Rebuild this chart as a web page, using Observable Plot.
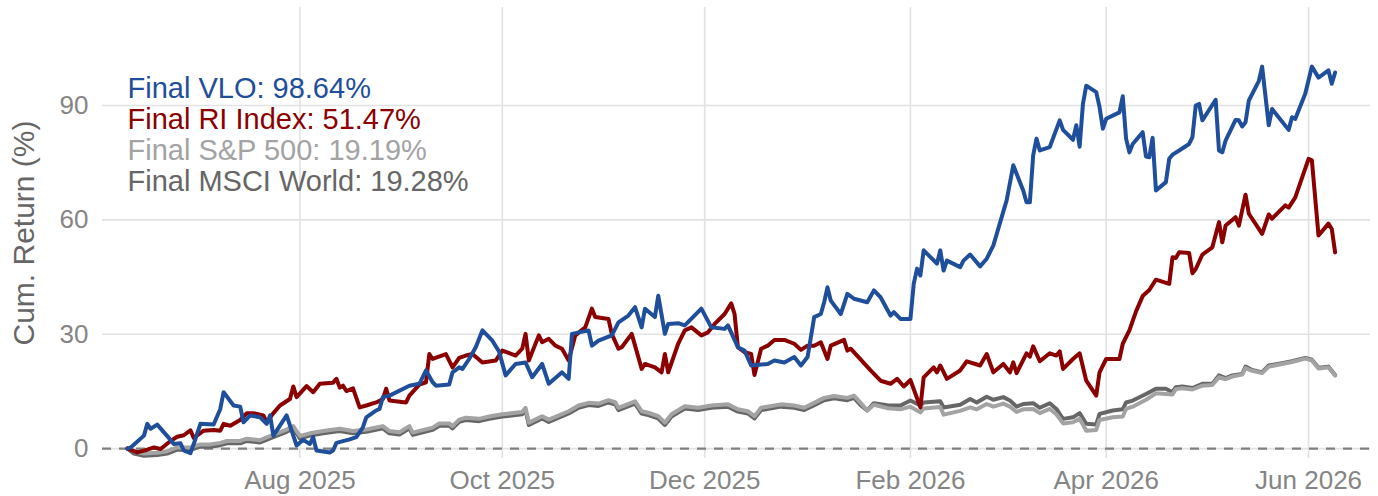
<!DOCTYPE html>
<html><head><meta charset="utf-8">
<script src="https://cdn.jsdelivr.net/npm/d3@7"></script>
<script src="https://cdn.jsdelivr.net/npm/@observablehq/plot@0.6"></script>
<style>html,body{margin:0;padding:0;background:#fff;}</style>
</head><body><div id="chart"></div>
<script>
// ---- data (day offsets from start date, cumulative return in %) ----
const startDate = "2025-06-10";

const vloDays = [0,1,5,6,7,9,13,14,16,17,19,20,22,26,28,29,32,34,35,37,40,42,43,44,48,51,53,55,56,57,61,62,63,67,69,71,72,75,76,77,79,85,88,90,92,93,97,98,100,101,103,105,107,110,112,114,117,120,122,125,127,131,133,134,139,140,142,146,148,151,153,155,156,159,160,162,163,166,168,173,176,180,181,184,186,188,193,195,198,201,203,205,207,209,210,211,212,215,217,219,223,225,227,230,231,233,236,237,238,239,240,244,245,246,247,251,252,254,257,259,261,265,267,270,271,272,273,274,275,278,281,282,285,286,287,288,289,292,293,294,295,299,300,301,302,303,306,307,308,309,310,313,314,315,317,320,321,322,323,324,328,329,330,331,334,335,336,337,338,341,342,344,345,350,351,352,355,357,359,362,363,364];
const vloValues = [0,0.3,3.4,6.5,5.2,6.3,2.3,1.2,1.4,-0.5,-1.2,1.2,6.5,6.3,10.4,14.8,11.3,11.0,6.9,8.7,8.2,6.5,8.7,3.4,8.7,0.8,2.3,1.2,3.0,-0.5,-1.0,-0.5,1.5,2.4,3.0,5.6,8.2,10.0,10.4,13.5,13.9,16.5,17.0,20.5,17.4,16.5,16.8,20.0,21.3,20.9,23.5,26.6,31.0,28.3,25.5,19.2,22.2,22.6,18.7,22.2,17.0,20.0,18.3,30.1,31.0,27.0,28.3,29.7,33.1,34.9,37.1,31.8,36.7,34.5,40.1,30.1,32.7,32.9,32.3,36.7,31.8,31.4,32.3,26.6,25.7,21.8,22.2,23.1,22.6,24.0,21.8,24.0,34.5,35.3,38.4,42.3,38.8,35.3,40.6,39.3,38.4,41.5,39.7,34.9,35.8,34.0,34.0,43.2,47.2,45.4,52.0,48.5,52.0,46.7,49.3,47.6,49.3,50.9,47.8,49.8,53.3,65.1,74.3,67.7,64.6,64.6,76.9,81.3,78.2,79.1,86.1,83.6,81.0,84.8,79.2,90.4,95.2,93.5,89.6,83.9,86.5,88.2,92.4,81.3,77.7,79.9,83.0,76.6,76.4,81.5,67.7,69.9,76.0,77.1,78.2,79.9,81.7,90.0,90.4,86.1,91.5,78.2,77.7,80.8,86.2,86.1,84.5,85.6,91.3,96.4,100.2,84.8,89.1,83.6,86.9,86.5,93.1,100.2,97.3,99.2,95.7,98.64];

const riDays = [0,3,6,8,10,13,15,17,19,20,23,26,28,29,31,34,36,38,41,42,44,46,49,50,51,54,56,58,62,63,64,65,66,68,70,72,75,77,78,79,84,85,88,90,91,92,96,98,100,102,104,107,111,113,117,119,120,121,124,125,127,129,131,133,135,138,140,141,145,146,148,149,152,155,156,159,161,162,163,166,168,170,173,175,177,180,182,183,184,186,188,189,191,193,195,198,201,203,205,207,209,211,212,216,217,218,224,227,230,232,234,236,239,240,243,244,245,247,251,253,257,259,261,264,266,267,268,271,272,273,275,278,280,281,282,285,287,289,292,293,295,299,300,302,304,306,308,310,314,315,316,317,320,321,322,324,327,329,330,331,334,335,337,338,342,344,345,349,350,352,356,357,359,362,363,364];
const riValues = [0,-1.0,-0.3,0.3,-0.1,2.0,3.1,3.5,4.8,2.8,4.7,4.9,4.7,6.5,6.0,7.5,9.3,9.3,8.7,6.9,9.3,11.3,13.0,16.3,13.5,16.4,14.8,17.0,17.3,18.3,16.0,16.5,15.1,15.8,10.8,11.3,12.1,13.0,15.7,12.6,12.1,13.9,16.8,17.4,24.8,23.5,24.8,21.3,23.8,24.4,24.8,22.6,23.1,25.7,24.4,26.2,30.1,23.1,29.7,27.9,28.8,27.0,26.2,23.1,29.7,31.8,36.7,34.5,34.0,30.1,26.2,26.6,30.1,20.9,22.2,21.3,20.0,24.8,20.0,27.5,31.0,31.8,29.7,30.5,32.7,35.3,38.1,35.3,26.6,25.3,24.8,19.3,26.2,27.0,28.5,28.5,27.5,25.9,27.0,27.0,27.9,23.5,27.0,28.5,25.7,26.2,20.5,17.8,17.0,18.3,16.3,18.0,10.8,18.7,21.3,20.0,21.8,18.3,20.5,22.9,21.8,24.8,20.0,22.2,20.0,22.6,19.8,25.0,24.1,26.8,22.9,25.0,24.4,25.5,20.9,23.5,25.0,17.8,13.9,20.0,23.5,23.5,27.5,31.0,36.0,40.0,41.6,44.3,43.2,50.2,50.0,51.5,51.3,46.0,47.1,50.9,52.8,59.4,54.1,58.5,60.7,58.5,66.6,61.6,56.3,61.4,60.3,63.8,63.2,65.9,76.0,75.6,55.9,59.0,57.6,51.47];

const indexDays = [0,2,5,9,12,15,19,22,25,28,30,34,36,40,43,48,50,52,55,59,64,68,72,77,79,82,85,86,92,94,97,98,100,102,106,109,113,117,119,120,121,125,127,133,136,139,142,145,147,148,153,155,157,160,162,164,168,172,176,181,184,187,189,191,197,201,204,207,210,213,217,219,221,223,225,229,233,236,239,240,245,246,251,254,256,259,261,264,266,268,270,273,275,278,280,282,285,287,289,292,293,297,300,301,303,307,310,313,315,316,318,321,324,327,329,331,333,336,337,339,342,344,348,351,355,357,359,362,364];
const msciValues = [0,-1.3,-1.9,-1.7,-1.3,-0.3,-0.3,0.5,0.5,0.9,1.4,1.4,2.0,1.6,2.7,4.4,5.3,2.7,3.4,4.0,4.6,4.0,4.4,5.3,4.0,3.7,5.3,3.6,4.9,6.0,6.0,5.3,7.0,7.5,7.2,7.8,8.4,8.8,9.0,10.1,6.2,7.9,7.0,9.2,10.7,11.4,11.2,12.1,11.6,10.1,11.8,9.2,8.8,7.9,6.2,8.4,10.5,10.1,10.7,11.0,9.7,9.2,7.9,10.1,11.0,10.7,10.1,11.4,12.7,13.2,12.7,13.3,11.4,10.0,11.9,11.4,11.3,12.6,11.3,12.1,12.4,10.8,11.5,13.0,12.1,13.6,12.8,13.5,12.6,11.0,11.7,11.9,10.7,11.9,10.4,7.8,8.2,9.3,6.5,6.3,9.1,10.0,10.3,12.1,12.6,14.3,15.7,15.7,14.8,16.1,16.3,15.9,17.0,17.0,19.2,18.5,19.2,19.6,21.5,20.6,20.0,21.8,22.4,22.9,23.8,23.3,21.2,21.5,19.28];
const spValues = [0,-0.7,-1.3,-1.1,-0.7,0.3,0.3,1.1,1.1,1.5,2.0,2.0,2.6,2.2,3.3,5.0,5.9,3.3,4.0,4.6,5.2,4.6,5.0,5.9,4.6,4.3,5.9,4.2,5.5,6.6,6.6,5.9,7.6,8.1,7.8,8.4,9.0,9.4,9.6,10.7,6.8,8.5,7.6,9.8,11.3,12.0,11.8,12.7,12.2,10.7,12.4,9.8,9.4,8.5,6.8,9.0,11.1,10.7,11.3,11.6,10.3,9.8,8.5,10.7,11.6,11.3,10.7,12.0,13.3,13.8,13.3,13.9,12.0,10.0,11.5,10.6,10.3,11.0,9.5,10.5,10.9,8.9,9.9,10.8,10.3,11.7,11.0,11.8,11.0,9.6,10.3,10.4,9.3,10.4,9.0,6.6,6.9,7.8,4.7,4.9,7.5,8.2,8.4,10.4,11.0,12.8,14.5,14.3,14.2,15.6,15.8,15.5,16.5,16.7,18.7,18.2,18.9,19.4,21.1,20.4,19.8,21.5,22.2,22.7,23.6,23.1,21.0,21.3,19.19];

const xTickDates = ["2025-08-01","2025-10-01","2025-12-01","2026-02-01","2026-04-01","2026-06-01"];
const yTickValues = [0,30,60,90];
const legendLabels = ["Final VLO: 98.64%","Final RI Index: 51.47%","Final S&P 500: 19.19%","Final MSCI World: 19.28%"];
const seriesColors = ["#1f4e9b","#8b0000","#a3a3a3","#666666"];

// ---- build tables ----
const t0 = new Date(startDate + "T00:00:00Z");
const rows = (days, vals) => days.map((d, i) => ({date: d3.utcDay.offset(t0, d), value: vals[i]}));
const vlo = rows(vloDays, vloValues);
const ri = rows(riDays, riValues);
const msci = rows(indexDays, msciValues);
const sp = rows(indexDays, spValues);
const xTicks = xTickDates.map(s => new Date(s + "T00:00:00Z"));

const lineOpts = (color) => ({x: "date", y: "value", stroke: color, strokeWidth: 4, strokeLinejoin: "round", strokeLinecap: "round"});

const legendMarks = legendLabels.map((lab, i) => Plot.text([lab], {
  frameAnchor: "top-left", dx: 25, dy: 90 + i * 31, lineAnchor: "bottom", textAnchor: "start",
  fill: seriesColors[i], fontSize: 29
}));

const chart = Plot.plot({
  width: 1378,
  height: 496,
  marginLeft: 102,
  marginRight: 8,
  marginTop: 7,
  marginBottom: 38,
  style: {fontFamily: "'Liberation Sans', Arial, sans-serif", background: "#ffffff", overflow: "visible"},
  x: {type: "utc", domain: [new Date("2025-06-02T12:00:00Z"), new Date("2026-06-19T16:00:00Z")]},
  y: {domain: [-2.6, 115.7]},
  marks: [
    Plot.gridX(xTicks, {stroke: "#e2e2e2", strokeOpacity: 1, strokeWidth: 1.6}),
    Plot.gridY(yTickValues, {stroke: "#e2e2e2", strokeOpacity: 1, strokeWidth: 1.6}),
    Plot.ruleY([0], {stroke: "#808080", strokeWidth: 2.4, strokeDasharray: "9,8"}),
    Plot.line(msci, lineOpts(seriesColors[3])),
    Plot.line(sp, lineOpts(seriesColors[2])),
    Plot.line(ri, lineOpts(seriesColors[1])),
    Plot.line(vlo, lineOpts(seriesColors[0])),
    Plot.axisX(xTicks, {tickSize: 0, tickPadding: 12, tickFormat: d3.utcFormat("%b %Y"), fontSize: 26, fill: "#858585", label: null}),
    Plot.axisY(yTickValues, {tickSize: 0, tickPadding: 14, fontSize: 26, fill: "#858585", label: null}),
    Plot.text(["Cum. Return (%)"], {frameAnchor: "left", rotate: -90, dx: -69, lineAnchor: "bottom", textAnchor: "middle", fontSize: 30, fill: "#666666"}),
    ...legendMarks
  ]
});
document.getElementById("chart").appendChild(chart);
</script></body></html>
